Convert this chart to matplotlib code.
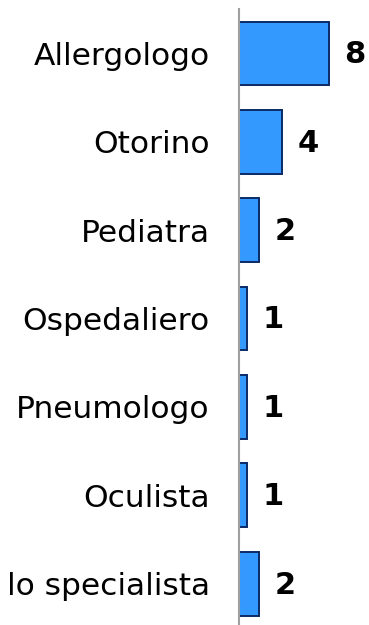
import matplotlib.pyplot as plt

# specialist counts
categories = ['Allergologo', 'Otorino', 'Pediatra', 'Ospedaliero',
              'Pneumologo', 'Oculista', 'lo specialista']
counts = [8, 4, 2, 1, 1, 1, 2]

fig = plt.figure(figsize=(3.69, 6.25), dpi=100)
ax = fig.add_axes([0.6477, -0.0046, 0.3523, 0.99])

pos = list(range(len(categories)))
ax.barh(pos, counts, height=0.72, color='#3399ff', edgecolor='#0a2a66',
        linewidth=1.4, zorder=2)

for y, v in zip(pos, counts):
    ax.annotate(str(v), (v, y), xytext=(11, -1), textcoords='offset points',
                ha='left', va='center', fontsize=22, fontweight='bold')

ax.set_ylim(6.5, -0.5)
ax.set_xlim(0.3, 11.4)
ax.set_yticks(pos, labels=categories, fontsize=22.5)
ax.set_xticks([])
ax.tick_params(axis='y', length=0, pad=21)

for side in ['top', 'right', 'bottom']:
    ax.spines[side].set_visible(False)
ax.spines['left'].set_color('#a0a0a0')
ax.spines['left'].set_linewidth(1.5)
ax.spines['left'].set_zorder(3)

fig.savefig('out.png', dpi=100)
